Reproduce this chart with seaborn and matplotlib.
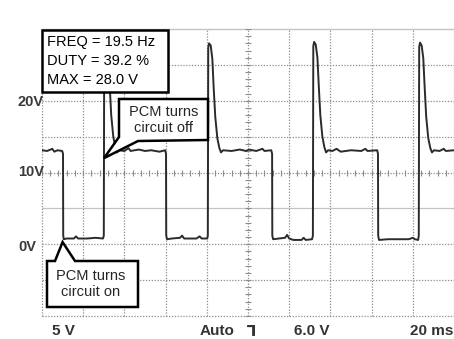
import numpy as np
import pandas as pd
import matplotlib
matplotlib.use("Agg")
import matplotlib.pyplot as plt
import seaborn as sns
from matplotlib.patches import Rectangle, Polygon
from matplotlib.transforms import IdentityTransform

# scope trace (ms, volts)
time_ms = [0.0, 2.5, 5.0, 6.0, 7.5, 9.8, 10.2, 10.3, 10.6, 12.0, 15.5, 16.5, 17.5, 22.0, 26.0, 29.6, 30.0,
           30.2, 30.6, 31.4, 32.2, 32.8, 33.6, 34.6, 35.6, 36.4, 37.4, 40.0, 42.0, 43.0, 47.0, 50.0, 53.0,
           57.0, 59.8, 60.2, 60.3, 60.7, 63.0, 67.0, 68.0, 69.0, 75.0, 76.5, 77.5, 80.2, 80.5,
           80.7, 81.1, 81.9, 82.7, 83.3, 84.1, 85.1, 86.1, 86.9, 87.9, 92.0, 96.0, 99.0, 100.5, 104.0,
           107.0, 108.0, 111.3, 111.7, 111.8, 112.2, 115.0, 118.0, 119.0, 120.0, 122.0, 126.0, 127.0,
           128.0, 131.1, 131.5,
           131.7, 132.1, 132.9, 133.7, 134.3, 135.1, 136.1, 137.1, 137.9, 138.9, 141.0, 143.0, 145.0,
           150.0, 155.0, 157.0, 158.0, 162.7, 163.1, 163.2, 163.6, 168.0, 172.0, 178.0, 180.0, 181.0,
           182.6, 182.9,
           183.1, 183.5, 184.3, 185.1, 185.7, 186.5, 187.5, 188.5, 189.3, 190.3, 193.0, 195.0, 196.0, 200.0]
volts = [13.1, 13.0, 13.3, 12.9, 13.1, 13.0, 12.6, 1.2, 0.7, 0.8, 0.8, 1.1, 0.8, 0.8, 0.9, 0.8, 1.2,
         27.5, 28.1, 27.8, 26.0, 22.5, 18.0, 15.0, 13.5, 12.8, 13.1, 13.0, 13.4, 13.0, 13.2, 13.0, 13.1,
         12.9, 13.1, 12.6, 1.2, 0.7, 0.8, 0.9, 1.2, 0.8, 0.8, 1.1, 0.8, 0.8, 1.2,
         27.4, 28.0, 27.7, 25.8, 22.0, 17.8, 14.8, 13.4, 12.8, 13.1, 13.0, 13.2, 13.0, 13.2, 13.0,
         13.3, 13.0, 13.1, 12.6, 1.2, 0.7, 0.8, 0.9, 1.3, 0.8, 0.6, 0.6, 0.9,
         0.6, 0.7, 1.2,
         27.6, 28.2, 27.8, 26.0, 22.4, 18.0, 15.0, 13.5, 12.8, 13.1, 13.0, 13.3, 12.9,
         13.1, 13.0, 13.3, 13.0, 13.1, 12.6, 1.2, 0.6, 0.7, 0.7, 0.7, 0.9, 0.7,
         0.6, 1.2,
         27.5, 28.1, 27.7, 25.9, 22.2, 17.8, 14.8, 13.4, 12.8, 13.1, 13.0, 13.3, 13.0, 13.1]

readout = ["FREQ = 19.5 Hz", "DUTY = 39.2 %", "MAX = 28.0 V"]
volt_labels = ["20V", "10V", "0V"]
bottom_labels = ["5 V", "Auto", "\u2142", "6.0 V", "20 ms"]

# where the callouts point (ms, volts)
off_point = (30.1, 12.0)
on_point = (10.0, 0.3)

sns.set_style("white")
plt.rcParams['font.family'] = ['Liberation Sans', 'DejaVu Sans']

W, H = 454, 339
fig = plt.figure(figsize=(W / 100, H / 100), dpi=100)
ax = fig.add_axes([42 / W, 23 / H, 412 / W, 287 / H])

df = pd.DataFrame({"t": time_ms, "v": volts})
sns.lineplot(data=df, x="t", y="v", sort=False, estimator=None, color="#2b2b2b",
             linewidth=1.4, ax=ax, zorder=4)

ax.set_xlim(0, 200)
ax.set_ylim(-10, 30)
ax.set_xlabel("")
ax.set_ylabel("")
ax.set_xticks([])
ax.set_yticks([])
for s in ax.spines.values():
    s.set_visible(False)

# graticule
dots = (0, (1, 1.3))
for x in range(0, 201, 20):
    ax.axvline(x, color="#8c8c8c", ls=dots, lw=0.9, zorder=1, clip_on=False)
for y in range(-10, 31, 5):
    if y == 30:
        ax.axhline(y, color="#c4c4c4", lw=1.0, zorder=1, clip_on=False)
    elif y == 5:
        ax.axhline(y, color="#c4c4c4", lw=0.9, zorder=1)
    else:
        ax.axhline(y, color="#8c8c8c", ls=dots, lw=0.9, zorder=1, clip_on=False)
ax.plot(np.arange(0, 201, 4), np.full(51, 10.0), ls="none", marker="|", ms=5,
        mew=0.8, color="#8c8c8c", zorder=2)
ax.plot(np.full(41, 100.0), np.arange(-10, 31, 1), ls="none", marker="_", ms=5,
        mew=0.8, color="#8c8c8c", zorder=2)


def px(x, y):
    return (x, H - y)


# readout box
fig.add_artist(Rectangle(px(42, 92), 126, 62, transform=IdentityTransform(),
                         fc="white", ec="black", lw=1.8, zorder=5))
for i, line in enumerate(readout):
    fig.text(47 / W, 1 - (42 + 19 * i) / H, line, ha="left", va="center",
             fontsize=10.5, color="black", zorder=6)

# callouts
tip_off = tuple(ax.transData.transform(off_point))
off_shape = [px(119, 99), px(208, 99), px(208, 140), px(138, 141), tip_off, px(119, 137)]
fig.add_artist(Polygon(off_shape, closed=True, transform=IdentityTransform(),
                       fc="white", ec="black", lw=1.8, zorder=5))
fig.text(164 / W, 1 - 120 / H, "PCM turns\ncircuit off", ha="center", va="center",
         fontsize=10.5, linespacing=1.15, zorder=6)

tip_on = tuple(ax.transData.transform(on_point))
on_shape = [px(47, 261), px(55, 261), tip_on, px(75, 261), px(138, 261), px(138, 307), px(47, 307)]
fig.add_artist(Polygon(on_shape, closed=True, transform=IdentityTransform(),
                       fc="white", ec="black", lw=1.8, zorder=5))
fig.text(91 / W, 1 - 284 / H, "PCM turns\ncircuit on", ha="center", va="center",
         fontsize=10.5, linespacing=1.15, zorder=6)

# volts/div labels on the left
for lab, yy in zip(volt_labels, [102, 172, 247]):
    fig.text(18 / W, 1 - yy / H, lab, ha="left", va="center", fontsize=10.5,
             fontweight="bold", color="#3a3a3a", zorder=6)

# status line along the bottom
for lab, xx in zip(bottom_labels, [52, 200, 247, 294, 410]):
    fig.text(xx / W, 1 - 324 / H, lab, ha="left", va="top", fontsize=11,
             fontweight="bold", color="#333333", zorder=6)

fig.savefig("out.png", dpi=100)
